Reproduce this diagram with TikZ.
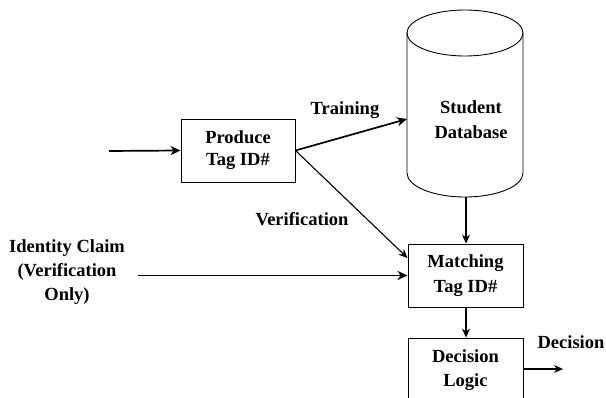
\documentclass[tikz,border=0pt]{standalone}
\usepackage{fontspec}
\setmainfont{Liberation Serif}
\usetikzlibrary{arrows.meta,calc}
\begin{document}
\begin{tikzpicture}[x=1pt,y=-1pt,
  every node/.style={font=\bfseries\fontsize{18.5}{24}\selectfont},
  blockbox/.style={draw,line width=0.9pt,inner sep=0pt,align=center,minimum width=114pt,minimum height=63pt},
  lbl/.style={inner sep=0pt,align=center},
  arr/.style={line width=1.7pt,-{Stealth[length=10pt,width=9pt,inset=3pt]}},
  tarr/.style={line width=1.1pt,-{Stealth[length=9pt,width=8pt,inset=3pt]}}]
\clip (0,0) rectangle (606,398);
\fill[white] (0,0) rectangle (606,398);
% boxes
\node[blockbox] (prod) at (238,150.5) {Produce\\[-2pt]Tag ID\#};
\node[blockbox,minimum width=115pt] (match) at (465.5,275.5) {Matching\\[1pt]Tag ID\#};
\node[blockbox,minimum width=115pt,minimum height=64pt] (dec) at (465.5,370) {Decision\\[0pt]Logic};
% cylinder
\draw[line width=0.9pt] (465,33) ellipse [x radius=58, y radius=23];
\draw[line width=0.9pt] (407,33) -- (407,173) arc[start angle=180,end angle=0,x radius=58,y radius=24] -- (523,33);
\node[lbl] (db) at (471,120) {Student\\[1pt]Database};
\coordinate (dbin) at (407,119);
\coordinate (dbbot) at (466,197);
% free ends
\coordinate (inp) at (109,151);
\coordinate (idc) at (138,275.5);
\coordinate (out) at (563,369);
% labels
\node[lbl] (ltrain) at (345,110) {Training};
\node[lbl] (lver) at (302,219) {Verification};
\node[lbl] (lid) at (67,272) {Identity Claim\\[0pt](Verification\\[0pt]Only)};
\node[lbl] (ldec) at (571,342) {Decision};
% connectors
\draw[arr] (inp) -- (prod.west);
\draw[arr] (prod.east) -- (dbin);
\draw[tarr] (prod.east) -- ([yshift=17.5pt]match.west);
\draw[arr] (idc) -- (match.west);
\draw[tarr] (dbbot) -- (match.north -| dbbot);
\draw[tarr] (match.south -| dbbot) -- (dec.north -| dbbot);
\draw[tarr] (dec.east |- out) -- (out);
\end{tikzpicture}
\end{document}
